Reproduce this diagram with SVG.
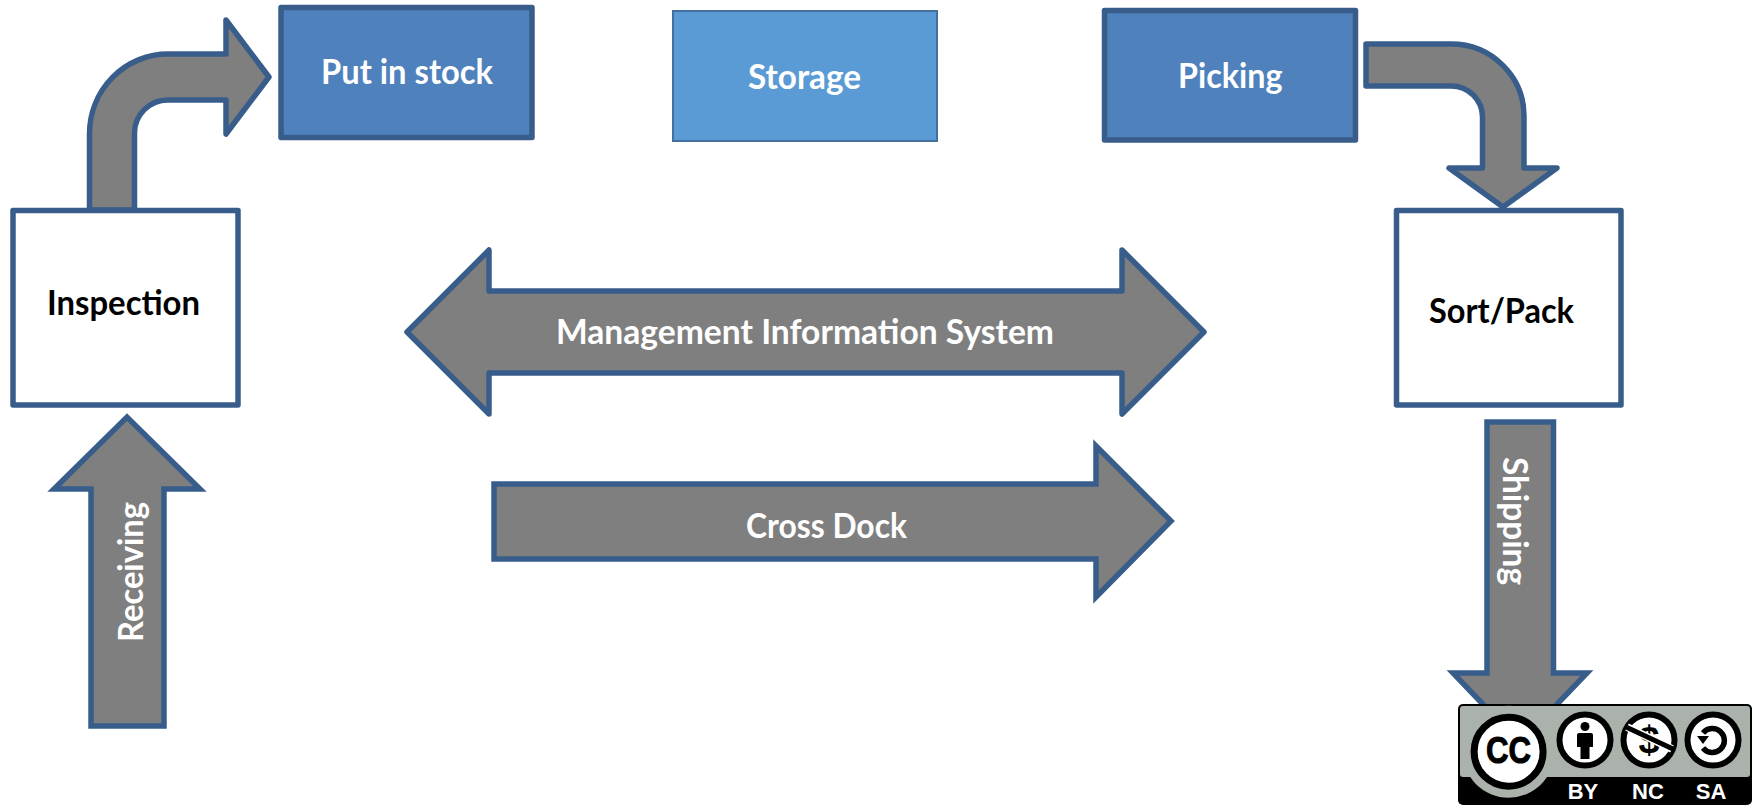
<svg xmlns="http://www.w3.org/2000/svg" width="1756" height="805" viewBox="0 0 1756 805">
<style>
.arrow{fill:#7f7f7f;stroke:#385d8a;stroke-width:5.500}
.rj{stroke-linejoin:round}
.mj{stroke-linejoin:miter;stroke-miterlimit:10}
.box{stroke:#385d8a;stroke-width:5.500;stroke-linejoin:round}
.blue{fill:#4f81bd}
.plain{fill:#fff}
text{font-family:Lato,"Liberation Sans",sans-serif;font-weight:700;font-size:34px}
.w{fill:#fff}
.k{fill:#000}
.cc{font-family:"Liberation Sans",Arial,sans-serif}
.ring{fill:#fff;stroke:#000;stroke-width:6}
</style>
<rect width="1756" height="805" fill="#fff"/>
<g id="connectors">
  <g id="conn-receiving">
    <path class="arrow mj" d="M91 726V489H54L127 417L200 489H164V726Z"/>
    <text class="w" transform="translate(143 642) rotate(-90)" textLength="140" lengthAdjust="spacingAndGlyphs">Receiving</text>
  </g>
  <g id="conn-inspection-putaway">
    <path class="arrow rj" d="M89.5 210V134A78.500 80 0 0 1 168 54H226V20L269 77L226 134V100H168A33.500 33 0 0 0 134.500 133V210Z"/>
  </g>
  <g id="conn-picking-sort">
    <path class="arrow rj" d="M1366 44H1451A73 72 0 0 1 1524 116V168H1557L1503 207L1449 168H1482.500V117A31.500 31 0 0 0 1451 86H1366Z"/>
  </g>
  <g id="conn-mis">
    <path class="arrow rj" d="M407 332L489 250V291H1122V250L1204 332L1122 414V373H489V414Z"/>
    <text class="w" x="556" y="344" textLength="498" lengthAdjust="spacingAndGlyphs">Management Information System</text>
  </g>
  <g id="conn-crossdock">
    <path class="arrow mj" d="M494 484H1096V446L1171 521L1096 597V559H494Z"/>
    <text class="w" x="746" y="538" textLength="161" lengthAdjust="spacingAndGlyphs">Cross Dock</text>
  </g>
  <g id="conn-shipping">
    <path class="arrow mj" d="M1487 422H1553.500V673H1587L1520 743L1453 673H1487Z"/>
    <text class="w" transform="translate(1503 457) rotate(90)" textLength="128" lengthAdjust="spacingAndGlyphs">Shipping</text>
  </g>
</g>
<g id="node-put-in-stock">
  <rect class="box blue" x="281" y="7.500" width="251" height="130"/>
  <text class="w" x="321" y="84" textLength="172" lengthAdjust="spacingAndGlyphs">Put in stock</text>
</g>
<g id="node-storage">
  <rect x="673" y="11" width="264" height="130" fill="#5b9bd5" stroke="#41719c" stroke-width="2"/>
  <text class="w" x="748" y="89" textLength="113" lengthAdjust="spacingAndGlyphs">Storage</text>
</g>
<g id="node-picking">
  <rect class="box blue" x="1104.500" y="10.500" width="251" height="129.500"/>
  <text class="w" x="1178" y="88" textLength="104.500" lengthAdjust="spacingAndGlyphs">Picking</text>
</g>
<g id="node-inspection">
  <rect class="box plain" x="13" y="210.500" width="225" height="194.500"/>
  <text class="k" x="47" y="315" textLength="153" lengthAdjust="spacingAndGlyphs">Inspection</text>
</g>
<g id="node-sort-pack">
  <rect class="box plain" x="1396.500" y="210.500" width="224.500" height="194.500"/>
  <text class="k" x="1429" y="323" textLength="145" lengthAdjust="spacingAndGlyphs">Sort/Pack</text>
</g>
<g id="cc-badge">
  <rect x="1458" y="704" width="294" height="101" rx="5" fill="#000"/>
  <rect x="1460" y="706" width="290" height="71" rx="3" fill="#aab2ab"/>
  <circle cx="1508.600" cy="751.700" r="46" fill="#aab2ab"/>
  <circle cx="1508.600" cy="751.700" r="34.500" fill="#fff" stroke="#000" stroke-width="7"/>
  <text class="k cc" x="1486" y="763" style="font-size:36px" stroke="#000" stroke-width="1" textLength="45" lengthAdjust="spacingAndGlyphs">CC</text>
  <circle class="ring" cx="1585" cy="740" r="25.500"/>
  <circle cx="1585" cy="726.500" r="4.500" fill="#000"/>
  <path fill="#000" d="M1579 733H1591Q1593 733 1593 735V747H1589.500V759H1580.500V747H1577V735Q1577 733 1579 733Z"/>
  <circle class="ring" cx="1649" cy="740" r="25.500"/>
  <text class="k cc" x="1649" y="753" text-anchor="middle" style="font-size:38px">$</text>
  <path d="M1627 727L1672 749" stroke="#fff" stroke-width="8" fill="none"/>
  <path d="M1626 727L1673 749" stroke="#000" stroke-width="5" fill="none"/>
  <circle class="ring" cx="1713" cy="740" r="25.500"/>
  <path d="M1703 733A12 12 0 1 1 1703 748" fill="none" stroke="#000" stroke-width="5.500"/>
  <path d="M1697 736H1709L1703 744Z" fill="#000"/>
  <text class="w cc" x="1583" y="799" text-anchor="middle" style="font-size:22px">BY</text>
  <text class="w cc" x="1648" y="799" text-anchor="middle" style="font-size:22px">NC</text>
  <text class="w cc" x="1711" y="799" text-anchor="middle" style="font-size:22px">SA</text>
</g>
</svg>
